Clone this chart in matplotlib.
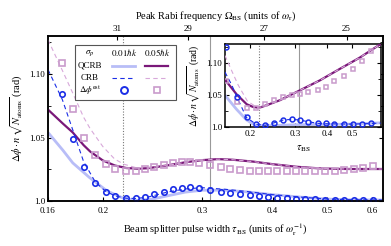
import matplotlib
matplotlib.use("Agg")
import matplotlib.pyplot as plt
import numpy as np
from matplotlib.patches import Rectangle
from matplotlib.lines import Line2D
from matplotlib.ticker import FixedLocator, NullFormatter, NullLocator

plt.rcParams['font.family'] = ['Liberation Serif', 'DejaVu Serif']
plt.rcParams['mathtext.fontset'] = 'stix'

# ---------------- main panel data ----------------
qcrb1_tau = [0.16, 0.17, 0.177, 0.1895, 0.2034, 0.218, 0.23, 0.245, 0.26, 0.28, 0.30, 0.33, 0.36, 0.40, 0.45, 0.50, 0.55, 0.60, 0.625]
qcrb1_val = [1.054, 1.040, 1.030, 1.0185, 1.008, 1.002, 1.0005, 1.0015, 1.004, 1.007, 1.0085, 1.0085, 1.0072, 1.005, 1.003, 1.0015, 1.001, 1.0008, 1.0008]

crb1_tau = [0.16, 0.1696, 0.177, 0.185, 0.194, 0.2025, 0.2105, 0.22, 0.229, 0.24, 0.25, 0.26, 0.28, 0.30, 0.33, 0.36, 0.40, 0.45, 0.50, 0.55, 0.625]
crb1_val = [1.1035, 1.080, 1.056, 1.031, 1.015, 1.0075, 1.004, 1.0022, 1.002, 1.003, 1.005, 1.007, 1.0095, 1.0105, 1.0092, 1.0075, 1.005, 1.003, 1.0015, 1.001, 1.0008]

qcrb5_tau = [0.16, 0.17, 0.177, 0.185, 0.19, 0.20, 0.21, 0.22, 0.23, 0.24, 0.26, 0.28, 0.30, 0.32, 0.34, 0.37, 0.40, 0.44, 0.48, 0.52, 0.56, 0.60, 0.625]
qcrb5_val = [1.072, 1.061, 1.054, 1.044, 1.039, 1.032, 1.028, 1.026, 1.0255, 1.0258, 1.028, 1.0305, 1.0322, 1.033, 1.0325, 1.031, 1.029, 1.027, 1.0258, 1.0253, 1.0252, 1.0252, 1.0252]

crb5_tau = [0.16, 0.17, 0.177, 0.185, 0.19, 0.20, 0.21, 0.218, 0.228, 0.24, 0.26, 0.28, 0.30, 0.32, 0.34, 0.37, 0.40, 0.44, 0.48, 0.52, 0.56, 0.60, 0.625]
crb5_val = [1.127, 1.102, 1.085, 1.066, 1.057, 1.043, 1.033, 1.029, 1.0265, 1.026, 1.028, 1.0305, 1.0322, 1.033, 1.0325, 1.031, 1.029, 1.027, 1.0258, 1.0253, 1.0252, 1.0252, 1.0252]

est_tau = [0.1696, 0.1774, 0.1851, 0.1937, 0.2025, 0.2105, 0.2195, 0.2288, 0.2374, 0.2468, 0.2566, 0.266, 0.2768, 0.286, 0.2961,
           0.3099, 0.3238, 0.3363, 0.3503, 0.3639, 0.3775, 0.3916, 0.4069, 0.4239, 0.4403, 0.4568, 0.4758, 0.4956, 0.5163,
           0.5356, 0.5563, 0.5781, 0.6022]
est1_val = [1.084, 1.049, 1.027, 1.014, 1.0074, 1.0036, 1.002, 1.002, 1.0034, 1.0053, 1.0074, 1.0093, 1.0106, 1.0108, 1.0102,
            1.0087, 1.0074, 1.0066, 1.0056, 1.0048, 1.004, 1.0034, 1.0026, 1.002, 1.0016, 1.0013, 1.0012, 1.001, 1.001,
            1.0009, 1.0009, 1.0008, 1.0008]
est5_val = [1.109, 1.0728, 1.0498, 1.036, 1.029, 1.025, 1.024, 1.024, 1.025, 1.0264, 1.028, 1.030, 1.0304, 1.0304, 1.030,
            1.028, 1.0264, 1.0254, 1.0246, 1.0238, 1.0233, 1.0233, 1.0233, 1.0233, 1.0233, 1.0233, 1.0236, 1.0238, 1.024,
            1.0246, 1.0252, 1.026, 1.0272]

# marker lines
tau_opt = 0.2175
tau_grey = 0.3095

# top axis: peak Rabi frequency
omega_ticks = [31, 29, 27, 25]
omega_C, omega_p = 21.7, 0.23   # Omega = C * tau^-p

# ---------------- inset data ----------------
i_qcrb1_tau = [0.16, 0.1775, 0.194, 0.21, 0.23, 0.26, 0.30, 0.40, 0.50, 0.645]
i_qcrb1_val = [1.050, 1.028, 1.0115, 1.003, 1.0025, 1.003, 1.004, 1.0045, 1.005, 1.007]

i_crb1_tau = [0.16, 0.1700, 0.178, 0.1937, 0.211, 0.2289, 0.2488, 0.2695, 0.2905, 0.313, 0.337, 0.367, 0.40, 0.50, 0.645]
i_crb1_val = [1.086, 1.066, 1.0474, 1.0155, 1.005, 1.003, 1.0071, 1.0113, 1.0124, 1.0113, 1.0087, 1.0062, 1.0055, 1.005, 1.0065]

i_qcrb5_tau = [0.16, 0.1775, 0.1943, 0.205, 0.2125, 0.22, 0.2324, 0.2617, 0.313, 0.374, 0.448, 0.536, 0.645]
i_qcrb5_val = [1.0743, 1.0515, 1.036, 1.032, 1.031, 1.0312, 1.0345, 1.0423, 1.0577, 1.0732, 1.0913, 1.109, 1.13]

i_crb5_tau = [0.16, 0.17, 0.18, 0.1954, 0.2112, 0.22, 0.2324, 0.2617, 0.313, 0.374, 0.448, 0.536, 0.645]
i_crb5_val = [1.112, 1.088, 1.066, 1.041, 1.032, 1.0315, 1.0345, 1.0423, 1.0577, 1.0732, 1.0913, 1.109, 1.13]

i_est_tau = [0.1620, 0.178, 0.1945, 0.211, 0.2289, 0.2488, 0.2695, 0.2905, 0.313, 0.337, 0.367, 0.395, 0.426, 0.463, 0.502, 0.544, 0.589]
i_est1_val = [1.1248, 1.0474, 1.0155, 1.005, 1.003, 1.0071, 1.0113, 1.0124, 1.0113, 1.0087, 1.0062, 1.006, 1.005, 1.005, 1.005, 1.0055, 1.0062]
i_est5_val = [1.0717, 1.0396, 1.0294, 1.0304, 1.037, 1.0433, 1.0474, 1.050, 1.0515, 1.0551, 1.0588, 1.0629, 1.0717, 1.0799, 1.0913, 1.104, 1.1197]

# ---------------- styles ----------------
c_light = '#b8bdf7'
c_blue = '#1b2ee6'
c_purple = '#7a1879'
c_pink = '#d8a8da'
c_sq = '#c99bcc'

W, H = 391, 246
fig = plt.figure(figsize=(W / 100, H / 100), dpi=100)

ax = fig.add_axes([48 / W, 1 - 201 / H, 335 / W, 165 / H])


def draw(a, q1t, q1v, c1t, c1v, q5t, q5v, c5t, c5v, et, e1, e5, ms, mew):
    a.plot(q1t, q1v, color=c_light, lw=2.0, solid_capstyle='butt', zorder=2)
    a.plot(q5t, q5v, color=c_purple, lw=1.6, zorder=3)
    a.plot(c5t, c5v, color=c_pink, lw=0.8, dashes=(4, 3), zorder=4)
    a.plot(c1t, c1v, color=c_blue, lw=0.8, dashes=(4, 3), zorder=4)
    a.plot(et, e5, ls='none', marker='s', ms=ms, mfc='none', mec=c_sq, mew=mew, zorder=5)
    a.plot(et, e1, ls='none', marker='o', ms=ms, mfc='none', mec=c_blue, mew=mew, zorder=6)
    a.axvline(tau_opt, color='#777777', lw=0.8, ls=(0, (1, 1.5)), zorder=1)
    a.axvline(tau_grey, color='#999999', lw=0.8, zorder=1)


draw(ax, qcrb1_tau, qcrb1_val, crb1_tau, crb1_val, qcrb5_tau, qcrb5_val, crb5_tau, crb5_val,
     est_tau, est1_val, est5_val, 3.9, 1.2)

ax.set_xscale('log')
ax.set_xlim(0.16, 0.627)
ax.set_ylim(1.0, 1.13)
ax.xaxis.set_major_locator(FixedLocator([0.16, 0.2, 0.3, 0.4, 0.5, 0.6]))
ax.xaxis.set_minor_locator(NullLocator())
ax.set_xticklabels(['0.16', '0.2', '0.3', '0.4', '0.5', '0.6'])
ax.set_yticks([1.0, 1.05, 1.10])
ax.set_yticklabels(['1.0', '1.05', '1.10'])
ax.yaxis.set_minor_locator(FixedLocator([1.025, 1.075, 1.125]))
ax.tick_params(which='both', direction='in', labelsize=6.5, right=True, top=False, pad=2)
ax.tick_params(axis='x', pad=4)
ax.tick_params(which='major', length=3, width=0.8)
ax.tick_params(which='minor', length=2, width=0.6)
for s in ax.spines.values():
    s.set_linewidth(1.1)
ax.set_xlabel(r'Beam splitter pulse width $\tau_{\mathrm{BS}}$ (units of $\omega_{\mathrm{r}}^{-1}$)', fontsize=7.5, labelpad=5)
ax.set_ylabel(r'$\Delta\phi\cdot n\,\sqrt{N_{\mathrm{atoms}}}$ (rad)', fontsize=7.5, labelpad=3)

# top axis
axt = ax.twiny()
axt.set_xscale('log')
axt.set_xlim(ax.get_xlim())
omega_tau = [(omega_C / o) ** (1 / omega_p) for o in omega_ticks]
axt.xaxis.set_major_locator(FixedLocator(omega_tau))
axt.xaxis.set_minor_locator(NullLocator())
axt.set_xticklabels([str(o) for o in omega_ticks])
axt.tick_params(direction='in', labelsize=6.5, length=3, width=0.8, pad=2)
axt.set_xlabel(r'Peak Rabi frequency $\Omega_{\mathrm{BS}}$ (units of $\omega_{\mathrm{r}}$)', fontsize=7.5, labelpad=5)
for s in axt.spines.values():
    s.set_linewidth(1.1)

# legend table
def fx(px):
    return (px - 48) / 335


def fy(py):
    return (201 - py) / 165


ax.add_patch(Rectangle((fx(75), fy(99.5)), fx(176) - fx(75), fy(45) - fy(99.5), transform=ax.transAxes,
                       facecolor='white', edgecolor='#555555', lw=0.8, zorder=10))
tk = dict(transform=ax.transAxes, ha='center', va='center', fontsize=6.5, zorder=11)
ax.text(fx(90), fy(53), r'$\sigma_p$', **tk)
ax.text(fx(124), fy(53), r'$0.01\hbar k$', **tk)
ax.text(fx(157), fy(53), r'$0.05\hbar k$', **tk)
ax.text(fx(90), fy(65.5), 'QCRB', **tk)
ax.text(fx(90), fy(78), 'CRB', **tk)
ax.text(fx(90), fy(90), r'$\Delta\phi^{\mathrm{est}}$', **tk)
ax.add_line(Line2D([fx(112), fx(135)], [fy(65.5)] * 2, transform=ax.transAxes, color=c_light, lw=2.0, zorder=11))
ax.add_line(Line2D([fx(145), fx(168)], [fy(65.5)] * 2, transform=ax.transAxes, color=c_purple, lw=1.6, zorder=11))
ax.add_line(Line2D([fx(112), fx(135)], [fy(78)] * 2, transform=ax.transAxes, color=c_blue, lw=0.8, dashes=(4, 3), zorder=11))
ax.add_line(Line2D([fx(145), fx(168)], [fy(78)] * 2, transform=ax.transAxes, color=c_pink, lw=0.8, dashes=(4, 3), zorder=11))
ax.add_line(Line2D([fx(124)], [fy(90)], transform=ax.transAxes, ls='none', marker='o', ms=5, mfc='none', mec=c_blue, mew=1.4, zorder=11))
ax.add_line(Line2D([fx(157)], [fy(90)], transform=ax.transAxes, ls='none', marker='s', ms=5, mfc='none', mec=c_sq, mew=1.2, zorder=11))

# inset
axi = fig.add_axes([225 / W, 1 - 127.3 / H, 155.7 / W, 83.3 / H])
axi.set_facecolor('white')
draw(axi, i_qcrb1_tau, i_qcrb1_val, i_crb1_tau, i_crb1_val, i_qcrb5_tau, i_qcrb5_val, i_crb5_tau, i_crb5_val,
     i_est_tau, i_est1_val, i_est5_val, 3.5, 1.1)
axi.set_xscale('log')
axi.set_xlim(0.16, 0.645)
axi.set_ylim(1.0, 1.13)
axi.xaxis.set_major_locator(FixedLocator([0.2, 0.3, 0.4, 0.5]))
axi.xaxis.set_minor_locator(NullLocator())
axi.set_xticklabels(['0.2', '0.3', '0.4', '0.5'])
axi.set_yticks([1.0, 1.05, 1.10])
axi.set_yticklabels(['1.0', '1.05', '1.10'])
axi.yaxis.set_minor_locator(FixedLocator([1.025, 1.075, 1.125]))
axi.tick_params(which='both', direction='in', labelsize=6.5, right=True, top=True, pad=2)
axi.tick_params(which='major', length=3, width=0.8)
axi.tick_params(which='minor', length=2, width=0.6)
for s in axi.spines.values():
    s.set_linewidth(1.1)
axi.set_xlabel(r'$\tau_{\mathrm{BS}}$', fontsize=7.5, labelpad=4)
axi.set_ylabel(r'$\Delta\phi\cdot n\,\sqrt{N_{\mathrm{atoms}}}$ (rad)', fontsize=7, labelpad=3)

fig.savefig('out.png', dpi=100, facecolor='white')
